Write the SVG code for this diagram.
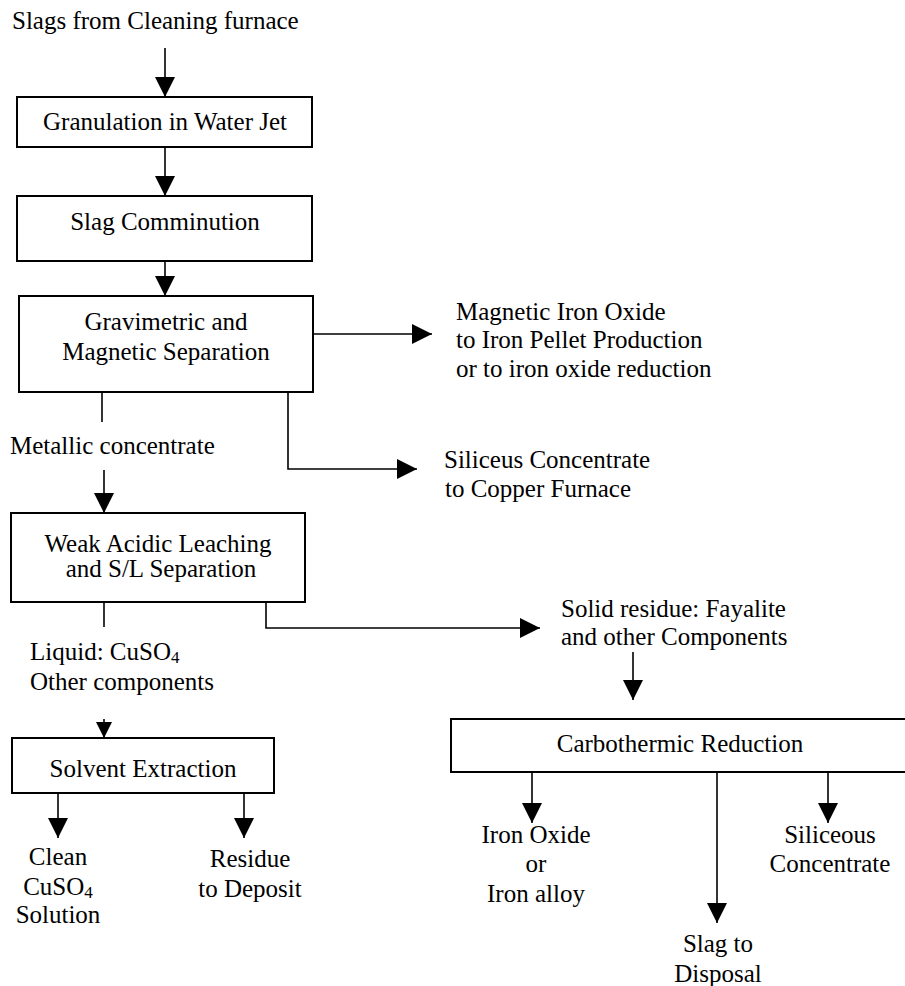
<svg xmlns="http://www.w3.org/2000/svg" width="905" height="986" viewBox="0 0 905 986">
<defs>
<marker id="ah" viewBox="0 0 20 20" refX="20" refY="10" markerWidth="20" markerHeight="20" markerUnits="userSpaceOnUse" orient="auto">
<path d="M0,0 L20,10 L0,20 Z" fill="#000"/>
</marker>
<marker id="ahs" viewBox="0 0 20 20" refX="20" refY="10" markerWidth="16" markerHeight="16" markerUnits="userSpaceOnUse" orient="auto">
<path d="M0,0 L20,10 L0,20 Z" fill="#000"/>
</marker>
</defs>
<rect width="905" height="986" fill="#fff"/>
<g id="connectors" fill="none" stroke="#000" stroke-width="1.6">
<line marker-end="url(#ah)" x1="165" y1="48" x2="165" y2="97"/>
<line marker-end="url(#ah)" x1="165" y1="147" x2="165" y2="196"/>
<line marker-end="url(#ah)" x1="165" y1="261" x2="165" y2="296"/>
<line marker-end="url(#ah)" x1="313" y1="334" x2="432" y2="334"/>
<polyline marker-end="url(#ah)" points="288,392 288,469 417,469"/>
<line x1="102" y1="392" x2="102" y2="422"/>
<line marker-end="url(#ah)" x1="104" y1="470" x2="104" y2="513"/>
<line x1="104" y1="602" x2="104" y2="627"/>
<polyline marker-end="url(#ah)" points="266,602 266,628 540,628"/>
<line marker-end="url(#ahs)" x1="104" y1="719" x2="104" y2="738"/>
<line marker-end="url(#ah)" x1="633" y1="652" x2="633" y2="700"/>
<line marker-end="url(#ah)" x1="58" y1="793" x2="58" y2="838"/>
<line marker-end="url(#ah)" x1="244" y1="793" x2="244" y2="838"/>
<line marker-end="url(#ah)" x1="532" y1="772" x2="532" y2="823"/>
<line marker-end="url(#ah)" x1="717" y1="772" x2="717" y2="923"/>
<line marker-end="url(#ah)" x1="828" y1="772" x2="828" y2="823"/>
</g>
<g id="source"><text font-family="Times New Roman" font-size="25" x="12" y="29">Slags from Cleaning furnace</text></g>
<g id="granulation">
<rect fill="#fff" stroke="#000" stroke-width="2" x="17" y="97" width="295" height="50"/>
<text font-family="Times New Roman" font-size="25" text-anchor="middle" x="165" y="130">Granulation in Water Jet</text>
</g>
<g id="comminution">
<rect fill="#fff" stroke="#000" stroke-width="2" x="17" y="196" width="295" height="65"/>
<text font-family="Times New Roman" font-size="25" text-anchor="middle" x="165" y="230">Slag Comminution</text>
</g>
<g id="separation">
<rect fill="#fff" stroke="#000" stroke-width="2" x="19" y="296" width="294" height="96"/>
<text font-family="Times New Roman" font-size="25" text-anchor="middle" x="166" y="330">Gravimetric and</text>
<text font-family="Times New Roman" font-size="25" text-anchor="middle" x="166" y="360">Magnetic Separation</text>
</g>
<g id="magnetic">
<text font-family="Times New Roman" font-size="25" x="456" y="320">Magnetic Iron Oxide</text>
<text font-family="Times New Roman" font-size="25" x="456" y="348">to Iron Pellet Production</text>
<text font-family="Times New Roman" font-size="25" x="456" y="377">or to iron oxide reduction</text>
</g>
<g id="siliceus">
<text font-family="Times New Roman" font-size="25" x="444" y="468">Siliceus Concentrate</text>
<text font-family="Times New Roman" font-size="25" x="445" y="497">to Copper Furnace</text>
</g>
<g id="metallic"><text font-family="Times New Roman" font-size="25" x="10" y="454">Metallic concentrate</text></g>
<g id="leaching">
<rect fill="#fff" stroke="#000" stroke-width="2" x="11" y="513" width="294" height="89"/>
<text font-family="Times New Roman" font-size="25" text-anchor="middle" x="158" y="552">Weak Acidic Leaching</text>
<text font-family="Times New Roman" font-size="25" text-anchor="middle" x="161" y="577">and S/L Separation</text>
</g>
<g id="liquid">
<text font-family="Times New Roman" font-size="25" x="30" y="660">Liquid: CuSO<tspan font-size="17" dy="3">4</tspan></text>
<text font-family="Times New Roman" font-size="25" x="30" y="690">Other components</text>
</g>
<g id="solid">
<text font-family="Times New Roman" font-size="25" x="561" y="617">Solid residue: Fayalite</text>
<text font-family="Times New Roman" font-size="25" x="561" y="645">and other Components</text>
</g>
<g id="solvent">
<rect fill="#fff" stroke="#000" stroke-width="2" x="12" y="738" width="262" height="55"/>
<text font-family="Times New Roman" font-size="25" text-anchor="middle" x="143" y="777">Solvent Extraction</text>
</g>
<g id="clean">
<text font-family="Times New Roman" font-size="25" text-anchor="middle" x="58" y="865">Clean</text>
<text font-family="Times New Roman" font-size="25" text-anchor="middle" x="58" y="895">CuSO<tspan font-size="17" dy="3">4</tspan></text>
<text font-family="Times New Roman" font-size="25" text-anchor="middle" x="58" y="923">Solution</text>
</g>
<g id="residue">
<text font-family="Times New Roman" font-size="25" text-anchor="middle" x="250" y="867">Residue</text>
<text font-family="Times New Roman" font-size="25" text-anchor="middle" x="250" y="897">to Deposit</text>
</g>
<g id="carbothermic">
<rect fill="#fff" stroke="#000" stroke-width="2" x="451" y="719" width="460" height="53"/>
<text font-family="Times New Roman" font-size="25" text-anchor="middle" x="680" y="752">Carbothermic Reduction</text>
</g>
<g id="iron">
<text font-family="Times New Roman" font-size="25" text-anchor="middle" x="536" y="843">Iron Oxide</text>
<text font-family="Times New Roman" font-size="25" text-anchor="middle" x="536" y="872">or</text>
<text font-family="Times New Roman" font-size="25" text-anchor="middle" x="536" y="902">Iron alloy</text>
</g>
<g id="siliceous">
<text font-family="Times New Roman" font-size="25" text-anchor="middle" x="830" y="843">Siliceous</text>
<text font-family="Times New Roman" font-size="25" text-anchor="middle" x="830" y="872">Concentrate</text>
</g>
<g id="slag">
<text font-family="Times New Roman" font-size="25" text-anchor="middle" x="718" y="952">Slag to</text>
<text font-family="Times New Roman" font-size="25" text-anchor="middle" x="718" y="982">Disposal</text>
</g>
</svg>
